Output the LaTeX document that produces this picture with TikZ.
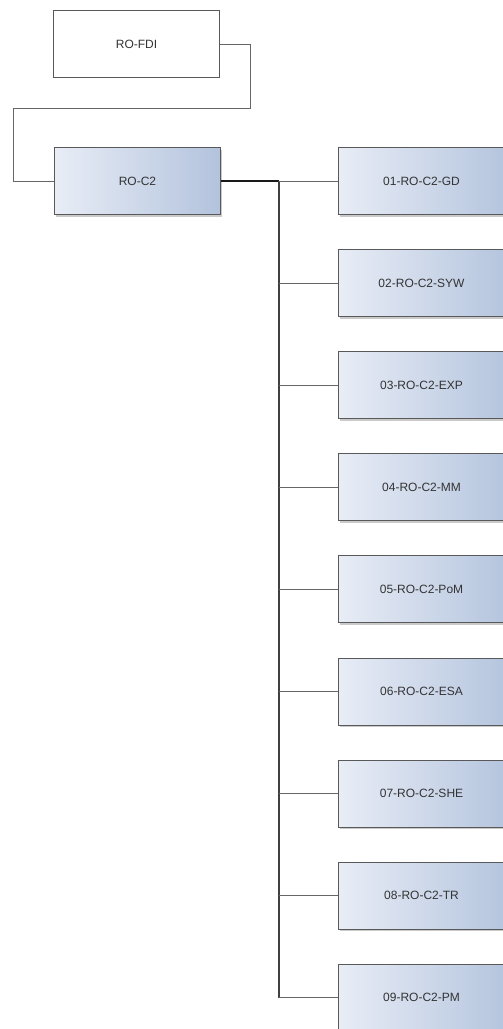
\documentclass[tikz,border=0pt]{standalone}
\usepackage{fontspec}
\setmainfont{Liberation Sans}
\usetikzlibrary{shadows}
\definecolor{boxL}{HTML}{E8EDF6}
\definecolor{boxR}{HTML}{B3C3DD}
\begin{document}
\begin{tikzpicture}[x=1pt,y=-1pt,
  box/.style={draw=black!65, line width=1pt, minimum width=166pt, minimum height=67pt, anchor=north west, inner sep=0pt, font=\fontsize{12}{14}\selectfont\color{black!80}},
  bluebox/.style={box, left color=boxL, right color=boxR, drop shadow={shadow xshift=1.5pt, shadow yshift=-2pt, fill=black!35, opacity=0.6}},
  link/.style={draw=black!60, line width=0.8pt},
  trunk/.style={draw=black!75, line width=1.1pt}]
\useasboundingbox (0,0) rectangle (503,1029);
\begin{scope}
\clip (0,0) rectangle (503,1029);
\node[box, fill=white] (fdi) at (53,10) {RO-FDI};
\node[bluebox] (c2) at (54,147) {RO-C2};
\foreach \i/\t in {1/01-RO-C2-GD,2/02-RO-C2-SYW,3/03-RO-C2-EXP,4/04-RO-C2-MM,5/05-RO-C2-PoM,6/06-RO-C2-ESA,7/07-RO-C2-SHE,8/08-RO-C2-TR,9/09-RO-C2-PM}{
  \pgfmathsetmacro\yy{147+(\i-1)*102.1}
  \node[bluebox, minimum width=175pt] (k\i) at (338,\yy) {\hspace*{-9pt}\t};
}
\coordinate (a1) at (250,44);
\coordinate (a2) at (250,108);
\coordinate (a3) at (13,108);
\coordinate (a4) at (13,181);
\draw[link] (fdi.east |- a1) -- (a1) -- (a2) -- (a3) -- (a4) -- (c2.west);
\coordinate (t0) at (279,181);
\draw[draw=black!90, line width=1.3pt] (c2.east) -- (t0);
\draw[trunk] (t0) -- (t0 |- k9.west);
\foreach \i in {1,...,9}{
  \draw[link] (t0 |- k\i.west) -- (k\i.west);
}
\end{scope}
\end{tikzpicture}
\end{document}
